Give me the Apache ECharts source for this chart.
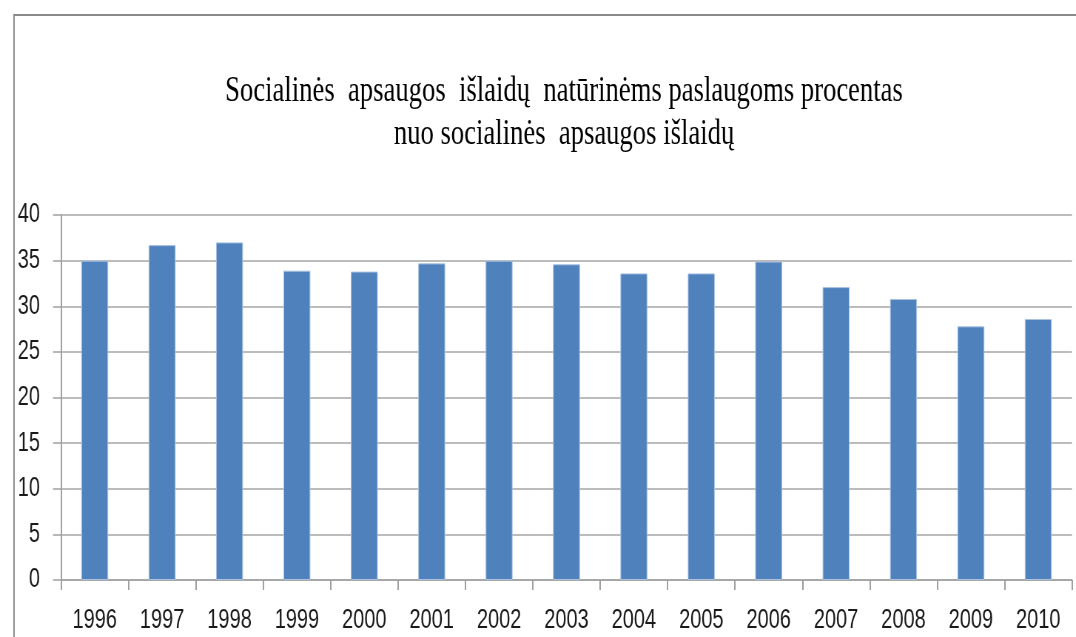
<!DOCTYPE html>
<html>
<head>
<meta charset="utf-8">
<title>Socialinės apsaugos išlaidos</title>
<script src="https://cdn.jsdelivr.net/npm/echarts@6/dist/echarts.min.js"></script>
<style>
  html, body { margin: 0; padding: 0; background: #fff; overflow: hidden; }
  #frame { width: 1076px; height: 637px; overflow: hidden; position: relative; }
  /* The chart is laid out wider and squeezed horizontally, giving the
     narrow, tall lettering of the printed figure. */
  #chart { position: absolute; left: 0; top: 0; width: 1454px; height: 637px;
           transform: scaleX(0.74); transform-origin: 0 0; }
</style>
</head>
<body>
<div id="frame"><div id="chart"></div></div>
<script>
// Years on the category axis
const years = ['1996', '1997', '1998', '1999', '2000', '2001', '2002', '2003',
               '2004', '2005', '2006', '2007', '2008', '2009', '2010'];

// Share of in-kind benefits in total social protection expenditure, %
const shares = [35.0, 36.7, 37.0, 33.9, 33.8, 34.7, 35.0, 34.6,
                33.6, 33.6, 34.9, 32.1, 30.8, 27.8, 28.6];

// Value axis range and step
const yMin = 0;
const yMax = 40;
const yStep = 5;

// Two-line chart heading
const titleLines = [
  'Socialinės  apsaugos  išlaidų  natūrinėms paslaugoms procentas',
  'nuo socialinės  apsaugos išlaidų'
];

const SQUEEZE = 0.74;              // horizontal scale applied by CSS
const sx = v => v / SQUEEZE;       // page x -> chart x

const labelFont = '"Liberation Sans", Arial, sans-serif';
const titleFont = '"Liberation Serif", "Times New Roman", serif';

const chart = echarts.init(document.getElementById('chart'), null, { renderer: 'canvas' });

chart.setOption({
  backgroundColor: '#ffffff',
  animation: false,
  graphic: [
    {
      type: 'rect',
      silent: true,
      shape: { x: sx(14), y: 15, width: 1600, height: 700 },
      style: { fill: 'none', stroke: '#8a8a8a', lineWidth: 2 }
    },
    {
      type: 'text',
      x: sx(564), y: 92,
      style: {
        text: titleLines[0],
        font: '36px ' + titleFont,
        fill: '#000',
        textAlign: 'center',
        textVerticalAlign: 'middle'
      }
    },
    {
      type: 'text',
      x: sx(564), y: 135,
      style: {
        text: titleLines[1],
        font: '36px ' + titleFont,
        fill: '#000',
        textAlign: 'center',
        textVerticalAlign: 'middle'
      }
    }
  ],
  grid: { left: sx(61), right: sx(4), top: 215, bottom: 57, containLabel: false },
  xAxis: {
    type: 'category',
    data: years,
    boundaryGap: true,
    axisLine: { show: true, lineStyle: { color: '#a0a0a0', width: 1.5 } },
    axisTick: { show: true, length: 10, interval: 0, alignWithLabel: false,
                lineStyle: { color: '#a0a0a0', width: 2 } },
    axisLabel: {
      interval: 0,
      margin: 27,
      color: '#1a1a1a',
      fontFamily: labelFont,
      fontSize: 27
    },
    splitLine: { show: false }
  },
  yAxis: {
    type: 'value',
    min: yMin,
    max: yMax,
    interval: yStep,
    axisLine: { show: true, lineStyle: { color: '#a0a0a0', width: 2 } },
    axisTick: { show: true, length: sx(8), lineStyle: { color: '#a0a0a0', width: 1.5 } },
    axisLabel: {
      margin: sx(21),
      color: '#1a1a1a',
      fontFamily: labelFont,
      fontSize: 27
    },
    splitLine: { show: true, lineStyle: { color: '#a6a6a6', width: 1.5 } }
  },
  series: [
    {
      type: 'bar',
      data: shares,
      barWidth: '40%',
      itemStyle: {
        color: '#4f81bd',
        borderColor: '#a9c2e2',
        borderWidth: 1
      }
    }
  ]
});
</script>
</body>
</html>
